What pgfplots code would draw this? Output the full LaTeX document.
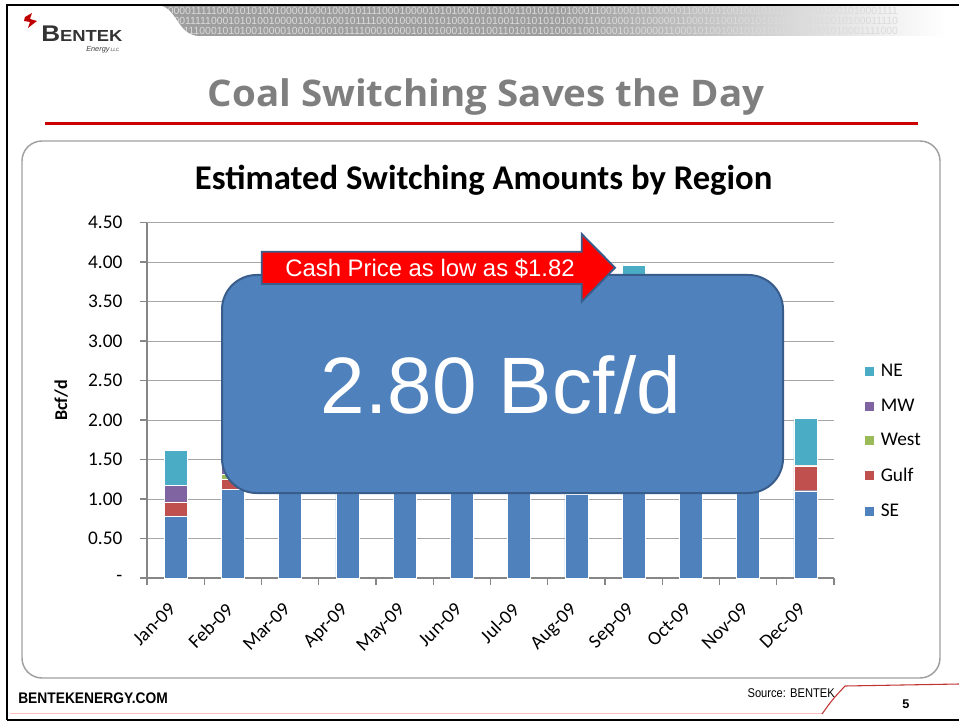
\documentclass[border=0pt]{standalone}
\usepackage{pgfplots}
\pgfplotsset{compat=1.18}
\usepackage{pgfplotstable}
\usepackage{graphicx}
\usepackage{fontspec}
\setmainfont{Carlito}
\newfontfamily\arial{Liberation Sans}
\newfontfamily\opensans{Open Sans}
\definecolor{cSE}{HTML}{4F81BD}
\definecolor{cGulf}{HTML}{C0504D}
\definecolor{cWest}{HTML}{9BBB59}
\definecolor{cMW}{HTML}{8064A2}
\definecolor{cNE}{HTML}{4BACC6}
\definecolor{boxedge}{HTML}{385D8A}
\definecolor{titlegray}{HTML}{7F7F7F}
\definecolor{gridgray}{HTML}{A6A6A6}
\definecolor{axisgray}{HTML}{868686}
\definecolor{framegray}{HTML}{A0A0A0}
\definecolor{rulered}{HTML}{CC0000}
\definecolor{bandgray}{HTML}{9E9E9E}

\pgfplotsset{
  layers/barsunder/.define layer set={axis background,axis grid,pre main,main,axis ticks,axis lines,axis tick labels,axis descriptions,axis foreground}{},
}

\pgfplotstableread{
x SE Gulf West MW NE
0 0.785 0.18 0.00 0.21 0.44
1 1.12 0.13 0.06 0.29 0.60
2 1.60 0.40 0.10 0.20 0.30
3 1.80 0.45 0.10 0.20 0.35
4 1.90 0.50 0.10 0.25 0.35
5 2.00 0.55 0.10 0.25 0.40
6 2.10 0.60 0.10 0.30 0.40
7 1.06 0.90 0.15 0.40 0.99
8 1.90 0.50 0.10 0.30 1.16
9 1.80 0.50 0.10 0.25 0.35
10 1.70 0.50 0.10 0.20 0.40
11 1.105 0.315 0.01 0.00 0.59
}\datatable

\begin{document}
\begin{tikzpicture}
\begin{scope}[x=0.75pt,y=-0.75pt]
\path[use as bounding box] (0,0) rectangle (959,723);
\fill[white] (0,0) rectangle (959,723);
% header band
\begin{scope}
\clip (156,5) .. controls (178,5) and (176,36) .. (200,36) -- (959,36) -- (959,5) -- cycle;
\fill[bandgray] (150,5) rectangle (560,36);
\shade[left color=bandgray, right color=white] (559,5) rectangle (945,36);
\fill[white] (944,5) rectangle (959,36);
\node[anchor=north west, inner sep=0, align=left, text=white!72!gray, font=\arial\fontsize{7.8}{7.7}\selectfont] at (156,6.5)
{0100001111100010101001000010001000101111000100001010100010101001101010101000110010001010000011000101001001010101010101001010001111\\
0000011111000101010010000100010001011110001000010101000101010011010101010001100100010100000110001010010010101010101010010100011110\\
0101111100010101001000010001000101111000100001010100010101001101010101000110010001010000011000101001001010101010101001010001111000};
\end{scope}
\draw[black, line width=2pt] (7,720) -- (7,5) -- (959,5);
\draw[black, line width=2pt] (7,720) -- (959,720);
% logo
\fill[red!75!black] (25,17) -- (32,13) -- (30,19) -- (37,21) -- (28,28) -- (30,22) -- (24,21) -- cycle;
\node[anchor=base west, inner sep=0, text=black!80, font=\arial\bfseries] at (41,42)
{\scalebox{1.15}[1]{\fontsize{17}{17}\selectfont B\fontsize{12}{12}\selectfont ENTEK}};
\node[anchor=base west, inner sep=0, text=black!75, font=\arial\itshape\fontsize{5.5}{6}\selectfont] at (86,52) {Energy\,{\fontsize{3.5}{4}\selectfont LLC}};
% title
\node[anchor=base, inner sep=0, text=titlegray, font=\opensans\bfseries\fontsize{27.5}{30}\selectfont] at (486,107) {\scalebox{1.05}[1]{Coal Switching Saves the Day}};
\draw[rulered, line width=2pt] (45,123.5) -- (918,123.5);
% frame
\draw[framegray, line width=1.1pt, rounded corners=15pt] (22,141) rectangle (940,678);
% footer
\draw[red!25, line width=0.6pt] (10,713) -- (822,713);
\draw[red!70!black!80, line width=0.8pt] (822,714) .. controls (832,700) .. (845,686) -- (959,684);
\node[anchor=base west, inner sep=0, font=\arial\bfseries\fontsize{11.5}{12}\selectfont] at (18,703) {\scalebox{0.9}[1]{BENTEKENERGY.COM}};
\node[anchor=base east, inner sep=0, font=\arial\fontsize{9.5}{10}\selectfont] at (835,697) {\scalebox{0.88}[1]{Source: BENTEK}};
\node[anchor=base, inner sep=0, font=\arial\bfseries\fontsize{9.5}{10}\selectfont] at (906,708) {5};
\end{scope}

\begin{axis}[
  set layers=barsunder,
  at={(110.25pt,-433.5pt)}, anchor=south west,
  scale only axis, width=515.25pt, height=266.6pt,
  xmin=-0.5, xmax=11.5, ymin=0, ymax=4.5,
  ybar stacked, bar width=17.25pt,
  axis x line*=bottom, axis y line*=left,
  axis line style={axisgray, line width=1.1pt},
  tick align=outside,
  xtick={0,...,11},
  xticklabels={Jan-09,Feb-09,Mar-09,Apr-09,May-09,Jun-09,Jul-09,Aug-09,Sep-09,Oct-09,Nov-09,Dec-09},
  minor xtick={-0.5,0.5,...,11.5},
  major x tick style={draw=none},
  minor x tick style={axisgray, line width=0.8pt},
  minor tick length=5.25pt, major tick length=5.25pt,
  ytick={0,0.5,...,4.5},
  yticklabels={-\hspace{10pt},0.50,1.00,1.50,2.00,2.50,3.00,3.50,4.00,4.50},
  y tick style={axisgray, line width=0.8pt},
  ymajorgrids, grid style={gridgray, line width=0.75pt},
  tick label style={font=\fontsize{14.5}{16}\selectfont},
  xticklabel style={rotate=45, anchor=north east, inner sep=0pt, xshift=-13pt, yshift=-4.5pt},
  yticklabel style={anchor=east, inner sep=0pt, xshift=-13pt},
  ylabel={Bcf/d},
  every axis y label/.style={at={(axis description cs:-0.125,0.5)}, rotate=90, anchor=center, font=\bfseries\fontsize{13.5}{15}\selectfont},
  title={Estimated Switching Amounts by Region},
  every axis title/.style={at={(axis description cs:0.49,1.093)}, anchor=base, font=\bfseries\fontsize{26}{28}\selectfont},
  legend style={at={(axis description cs:1.038,0.385)}, anchor=west, draw=none, fill=none,
    font=\fontsize{14.5}{16}\selectfont, row sep=11.1pt},
  legend cell align=left,
  reverse legend,
  legend image code/.code={\fill[#1] (0pt,-3.75pt) rectangle (7.5pt,3.75pt); \path (10pt,0pt);},
]
\addplot[fill=cSE, draw=white, line width=0.3pt] table[x=x,y=SE]{\datatable};
\addplot[fill=cGulf, draw=white, line width=0.3pt] table[x=x,y=Gulf]{\datatable};
\addplot[fill=cWest, draw=white, line width=0.3pt] table[x=x,y=West]{\datatable};
\addplot[fill=cMW, draw=white, line width=0.3pt] table[x=x,y=MW]{\datatable};
\addplot[fill=cNE, draw=white, line width=0.3pt] table[x=x,y=NE]{\datatable};
\legend{SE,Gulf,West,MW,NE}
\end{axis}

\begin{scope}[x=0.75pt,y=-0.75pt]
\draw[fill=cSE, draw=boxedge, line width=1.5pt, rounded corners=26pt] (222,275) rectangle (783,493);
\node[anchor=base, inner sep=0, text=white, font=\arial\fontsize{60}{62}\selectfont] at (501,413) {2.80 Bcf/d};
\draw[fill=red, draw=boxedge, line width=1.4pt, line join=miter] (261.7,251.7) -- (581.7,251.7) -- (581.7,234) -- (615,267.7) -- (581.7,301.7) -- (581.7,284) -- (261.7,284) -- cycle;
\node[anchor=base, inner sep=0, text=white, font=\arial\fontsize{17.9}{20}\selectfont] at (430,276.7) {Cash Price as low as \$1.82};
\end{scope}
\end{tikzpicture}
\end{document}
